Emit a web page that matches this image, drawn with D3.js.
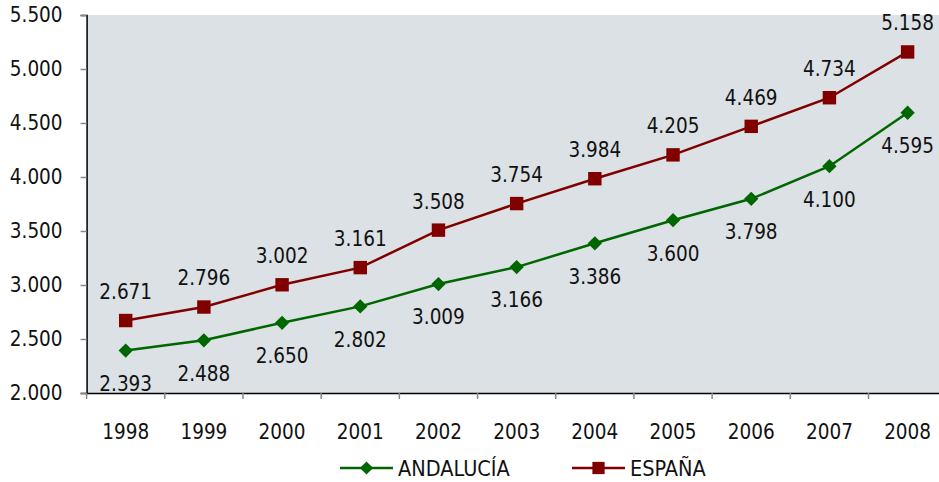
<!DOCTYPE html>
<html>
<head>
<meta charset="utf-8">
<script src="https://cdnjs.cloudflare.com/ajax/libs/d3/7.8.5/d3.min.js"></script>
<style>
  body { margin: 0; background: #fff; }
  svg text { font-family: "DejaVu Sans Condensed", "DejaVu Sans", sans-serif; font-stretch: condensed; fill: #111; }
</style>
</head>
<body>
<div id="chart"></div>
<script>
var years = ["1998", "1999", "2000", "2001", "2002", "2003", "2004", "2005", "2006", "2007", "2008"];
var andalucia = [2393, 2488, 2650, 2802, 3009, 3166, 3386, 3600, 3798, 4100, 4595];
var espana = [2671, 2796, 3002, 3161, 3508, 3754, 3984, 4205, 4469, 4734, 5158];
var yTicks = [2000, 2500, 3000, 3500, 4000, 4500, 5000, 5500];

var W = 939, H = 482;
var plot = { left: 86.6, right: 946.7, top: 15, bottom: 393 };

// spanish thousands separator
var fmt = function (v) { return d3.format(",.0f")(v).replace(/,/g, "."); };

var svg = d3.select("#chart").append("svg").attr("width", W).attr("height", H);

var x = d3.scaleBand().domain(years).range([plot.left, plot.right]);
var y = d3.scaleLinear().domain([2000, 5500]).range([plot.bottom, plot.top]);

// plot background
svg.append("rect").attr("x", plot.left).attr("y", plot.top)
    .attr("width", plot.right - plot.left).attr("height", plot.bottom - plot.top)
    .attr("fill", "#dbe1e4");

// y axis
var yAxis = svg.append("g").attr("transform", "translate(" + plot.left + ",0)")
    .call(d3.axisLeft(y).tickValues(yTicks).tickSize(6).tickPadding(18).tickFormat(fmt));
yAxis.select(".domain").attr("stroke", "#000").attr("stroke-width", 1.5);
yAxis.selectAll(".tick line").attr("stroke", "#888").attr("stroke-width", 1.5);
yAxis.selectAll(".tick text").attr("font-size", 20.5).attr("fill", "#111");

// x axis
var xAxis = svg.append("g").attr("transform", "translate(0," + plot.bottom + ")")
    .call(d3.axisBottom(x).tickSize(0).tickPadding(31));
xAxis.select(".domain").attr("stroke", "#000").attr("stroke-width", 1.5);
xAxis.selectAll(".tick text").attr("font-size", 20.5).attr("fill", "#111");
// category boundary ticks
xAxis.selectAll(".bound").data(years).enter().append("line")
    .attr("class", "bound")
    .attr("x1", function (d) { return x(d); }).attr("x2", function (d) { return x(d); })
    .attr("y1", 0).attr("y2", 6).attr("stroke", "#888").attr("stroke-width", 1.5);

var cx = function (d, i) { return x(years[i]) + x.bandwidth() / 2; };
var line = d3.line().x(cx).y(function (d) { return y(d); });

var series = [
    { name: "ANDALUCÍA", values: andalucia, color: "#006600", marker: "diamond", dy: 33 },
    { name: "ESPAÑA", values: espana, color: "#800000", marker: "square", dy: -29 }
];

series.forEach(function (s) {
    svg.append("path").datum(s.values).attr("d", line)
        .attr("fill", "none").attr("stroke", s.color).attr("stroke-width", 2.5);

    var sym = s.marker === "diamond" ? d3.symbol().type(d3.symbolDiamond2).size(130)
                                     : d3.symbol().type(d3.symbolSquare).size(180);
    svg.selectAll(null).data(s.values).enter().append("path")
        .attr("d", sym)
        .attr("transform", function (d, i) { return "translate(" + cx(d, i) + "," + y(d) + ")"; })
        .attr("fill", s.color);

    svg.selectAll(null).data(s.values).enter().append("text")
        .attr("x", cx).attr("y", function (d) { return y(d) + s.dy; })
        .attr("dy", "0.36em").attr("text-anchor", "middle").attr("font-size", 20.5)
        .text(fmt);
});

// legend
var legend = [
    { name: "ANDALUCÍA", color: "#006600", marker: "diamond", x: 340 },
    { name: "ESPAÑA", color: "#800000", marker: "square", x: 572 }
];
legend.forEach(function (l) {
    var g = svg.append("g").attr("transform", "translate(" + l.x + ",468)");
    g.append("line").attr("x1", 0).attr("x2", 53).attr("stroke", l.color).attr("stroke-width", 2.5);
    var sym = l.marker === "diamond" ? d3.symbol().type(d3.symbolDiamond2).size(110)
                                     : d3.symbol().type(d3.symbolSquare).size(150);
    g.append("path").attr("d", sym).attr("transform", "translate(26.5,0)").attr("fill", l.color);
    g.append("text").attr("x", 58).attr("dy", "0.36em").attr("font-size", 21.5).text(l.name);
});
</script>
</body>
</html>
